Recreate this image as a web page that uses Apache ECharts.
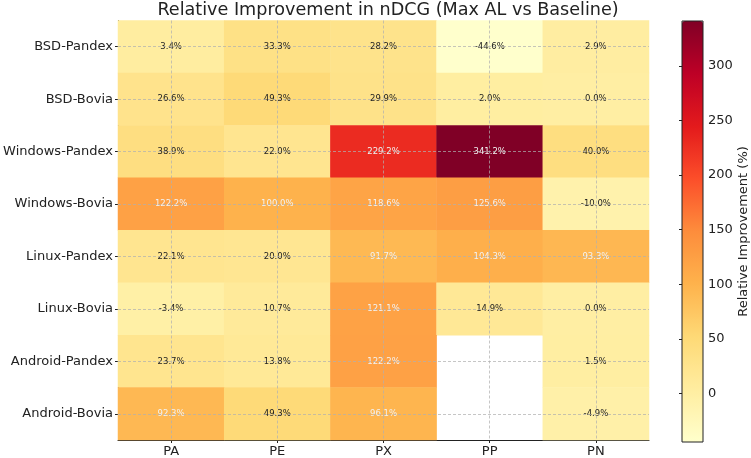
<!DOCTYPE html>
<html>
<head>
<meta charset="utf-8">
<script src="https://cdn.jsdelivr.net/npm/echarts@6/dist/echarts.min.js"></script>
<style>
  html, body { margin: 0; padding: 0; background: #fff; }
  #chart { width: 751px; height: 458px; }
</style>
</head>
<body>
<div id="chart"></div>
<script>
// columns and rows of the heatmap
var methods = ['PA', 'PE', 'PX', 'PP', 'PN'];
var setups = ['BSD-Pandex', 'BSD-Bovia', 'Windows-Pandex', 'Windows-Bovia',
              'Linux-Pandex', 'Linux-Bovia', 'Android-Pandex', 'Android-Bovia'];

// relative improvement (%) per row, null = no value
var bsdPandex     = [3.4, 33.3, 28.2, -44.6, 2.9];
var bsdBovia      = [26.6, 49.3, 29.9, 2.0, 0.0];
var windowsPandex = [38.9, 22.0, 229.2, 341.2, 40.0];
var windowsBovia  = [122.2, 100.0, 118.6, 125.6, -10.0];
var linuxPandex   = [22.1, 20.0, 91.7, 104.3, 93.3];
var linuxBovia    = [-3.4, 10.7, 121.1, 14.9, 0.0];
var androidPandex = [23.7, 13.8, 122.2, null, 1.5];
var androidBovia  = [92.3, 49.3, 96.1, null, -4.9];

var rows = [bsdPandex, bsdBovia, windowsPandex, windowsBovia,
            linuxPandex, linuxBovia, androidPandex, androidBovia];

var cbarMin = -44.6, cbarMax = 341.2;

var ylorrd = ['#ffffcc', '#ffeda0', '#fed976', '#feb24c', '#fd8d3c',
              '#fc4e2a', '#e31a1c', '#bd0026', '#800026'];

var font = 'DejaVu Sans';

var data = [];
rows.forEach(function (vals, r) {
  vals.forEach(function (v, c) {
    if (v === null) return;
    data.push({
      value: [c, r, v],
      label: { color: v > 70 ? '#f2f2f2' : '#222' }
    });
  });
});

var chart = echarts.init(document.getElementById('chart'));
var option = {
  animation: false,
  textStyle: { fontFamily: font },
  title: {
    text: 'Relative Improvement in nDCG (Max AL vs Baseline)',
    left: 383, textAlign: 'center', top: -4,
    textStyle: { fontFamily: font, fontSize: 17.6, fontWeight: 'normal', color: '#222' }
  },
  grid: [
    { left: 118, right: 102, top: 20.5, bottom: 15.5 },
    { left: 682, width: 21, top: 21, bottom: 16, show: true,
      borderColor: '#222', borderWidth: 1, backgroundColor: 'transparent', z: 10 }
  ],
  xAxis: [
    {
      type: 'category', data: methods, gridIndex: 0,
      axisLine: { show: true, lineStyle: { color: '#222', width: 1 } },
      axisTick: { show: true, length: 3, alignWithLabel: true, lineStyle: { color: '#222' } },
      axisLabel: { fontFamily: font, fontSize: 13, color: '#222', margin: 5 },
      splitLine: { show: false }
    },
    { type: 'value', gridIndex: 1, show: false }
  ],
  yAxis: [
    {
      type: 'category', data: setups, inverse: true, gridIndex: 0,
      axisLine: { show: true, lineStyle: { color: '#222', width: 1 } },
      axisTick: { show: true, length: 3, alignWithLabel: true, lineStyle: { color: '#222' } },
      axisLabel: { fontFamily: font, fontSize: 13, color: '#222', margin: 5 },
      splitLine: { show: false }
    },
    {
      type: 'value', gridIndex: 1, position: 'right',
      min: cbarMin, max: cbarMax, splitNumber: 8,
      axisLine: { show: false },
      axisTick: { show: true, inside: true, length: 3, lineStyle: { color: '#222' } },
      axisLabel: { fontFamily: font, fontSize: 13, color: '#222', margin: 5,
                   showMinLabel: false, showMaxLabel: false },
      splitLine: { show: false },
      name: 'Relative Improvement (%)',
      nameLocation: 'middle', nameRotate: 90, nameGap: 34,
      nameTextStyle: { fontFamily: font, fontSize: 13, color: '#222' }
    }
  ],
  visualMap: {
    type: 'continuous',
    min: cbarMin, max: cbarMax,
    seriesIndex: 0,
    calculable: false,
    orient: 'vertical',
    left: 682, top: 21,
    itemWidth: 21, itemHeight: 421,
    padding: 0,
    text: null,
    showLabel: false,
    z: 1,
    inRange: { color: ylorrd }
  },
  series: [{
    type: 'heatmap',
    xAxisIndex: 0, yAxisIndex: 0,
    data: data,
    label: {
      show: true, fontFamily: font, fontSize: 8.5,
      formatter: function (p) { return p.value[2].toFixed(1) + '%'; }
    },
    itemStyle: { borderWidth: 0 },
    emphasis: { disabled: true },
    markLine: {
      silent: true,
      symbol: 'none',
      label: { show: false },
      lineStyle: { color: '#b0b0b0', type: [3, 2], width: 0.8, opacity: 0.9 },
      data: methods.map(function (m) { return { xAxis: m }; })
        .concat(setups.map(function (s) { return { yAxis: s }; }))
    }
  }]
};
chart.setOption(option);
</script>
</body>
</html>
